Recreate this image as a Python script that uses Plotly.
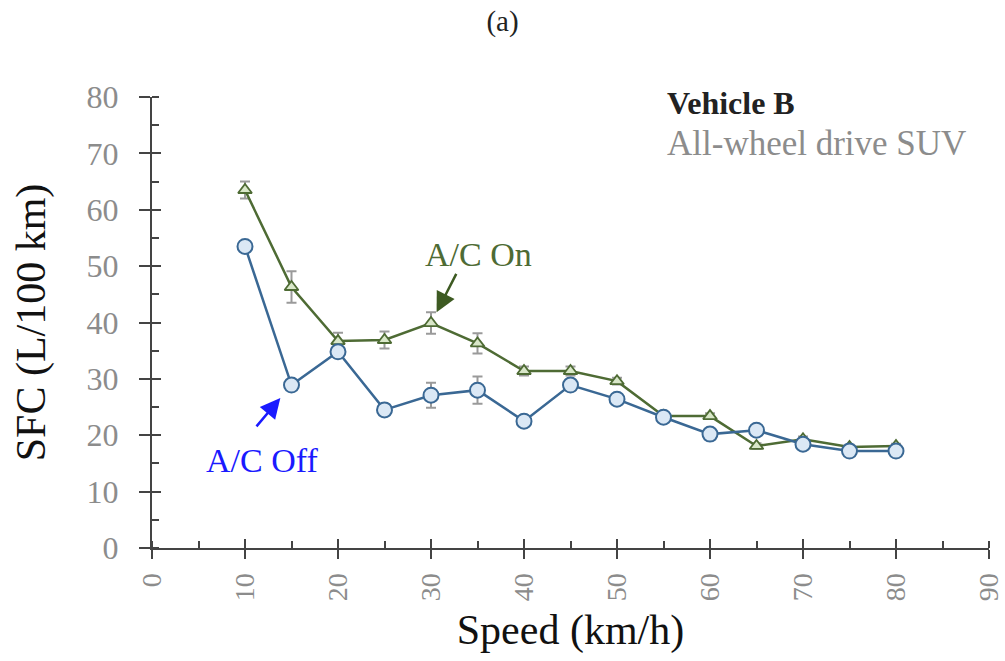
import plotly.graph_objects as go

speed = [10, 15, 20, 25, 30, 35, 40, 45, 50, 55, 60, 65, 70, 75, 80]
ac_off = [53.5, 28.9, 34.8, 24.5, 27.1, 28.0, 22.5, 28.9, 26.4, 23.2, 20.2, 20.9, 18.4, 17.2, 17.2]
ac_off_err = [0.6, 0.6, 1.0, 1.0, 2.2, 2.4, 1.0, 1.0, 0.5, 0.5, 0.4, 0.4, 0.4, 0.3, 0.3]
ac_on = [63.5, 46.3, 36.7, 36.9, 39.9, 36.3, 31.4, 31.4, 29.6, 23.4, 23.4, 18.1, 19.3, 17.9, 18.1]
ac_on_err = [1.5, 2.8, 1.5, 1.5, 1.9, 1.8, 0.8, 0.8, 0.6, 0.5, 0.5, 0.5, 0.5, 0.4, 0.4]

FONT = "Liberation Serif"
BLUE = "#3a6894"
GREEN = "#4e6b34"

fig = go.Figure()
fig.add_trace(go.Scatter(
    x=speed, y=ac_on, mode="lines+markers", name="A/C On",
    line=dict(color=GREEN, width=2.5),
    marker=dict(symbol="triangle-up", size=12, color="#d9e7c9", line=dict(color=GREEN, width=1.8)),
    error_y=dict(type="data", array=ac_on_err, color="#9a9a9a", thickness=2, width=5),
))
fig.add_trace(go.Scatter(
    x=speed, y=ac_off, mode="lines+markers", name="A/C Off",
    line=dict(color=BLUE, width=2.5),
    marker=dict(symbol="circle", size=15, color="#dbe8f5", line=dict(color=BLUE, width=2)),
    error_y=dict(type="data", array=ac_off_err, color="#9a9a9a", thickness=2, width=5),
))
# invisible trace for overlay axes (inward major ticks)
fig.add_trace(go.Scatter(x=[None], y=[None], xaxis="x2", yaxis="y2", showlegend=False, hoverinfo="skip"))

fig.update_layout(
    width=1005, height=661,
    margin=dict(l=152, r=16, t=97, b=113),
    paper_bgcolor="white", plot_bgcolor="white",
    showlegend=False,
    font=dict(family=FONT),
    title=dict(text="(a)", x=0.5, xref="container", xanchor="center", y=0.968, yanchor="middle",
               font=dict(family=FONT, size=29, color="#222")),
    xaxis=dict(range=[0, 90], dtick=10, tick0=0, tickangle=-90, automargin=False,
               tickfont=dict(family=FONT, size=28, color="#8c8c8c"), ticklabelstandoff=3,
               showgrid=False, zeroline=False, showline=True, linecolor="#444", linewidth=2,
               ticks="outside", ticklen=9, tickwidth=2, tickcolor="#444",
               minor=dict(dtick=5, ticks="inside", ticklen=7, tickwidth=2, tickcolor="#444"),
               title=dict(text="Speed (km/h)", font=dict(family=FONT, size=42, color="#111"), standoff=14)),
    yaxis=dict(range=[0, 80], dtick=10, tick0=0, automargin=False,
               tickfont=dict(family=FONT, size=32, color="#8c8c8c"), ticklabelstandoff=14,
               showgrid=False, zeroline=False, showline=True, linecolor="#444", linewidth=2,
               ticks="outside", ticklen=11, tickwidth=2, tickcolor="#444",
               minor=dict(dtick=5, ticks="inside", ticklen=7, tickwidth=2, tickcolor="#444"),
               title=dict(text="SFC (L/100 km)", font=dict(family=FONT, size=42, color="#111"), standoff=28)),
    xaxis2=dict(range=[0, 90], dtick=10, tick0=0, overlaying="x", anchor="y2", side="bottom",
                showticklabels=False, showgrid=False, zeroline=False, showline=False, automargin=False,
                ticks="inside", ticklen=9, tickwidth=2, tickcolor="#444"),
    yaxis2=dict(range=[0, 80], dtick=10, tick0=0, overlaying="y", anchor="x2", side="left",
                showticklabels=False, showgrid=False, zeroline=False, showline=False, automargin=False,
                ticks="inside", ticklen=9, tickwidth=2, tickcolor="#444"),
)

ann = []
ann.append(dict(x=55.2, y=78.9, xref="x", yref="y", text="<b>Vehicle B</b>", showarrow=False,
                xanchor="left", yanchor="middle", font=dict(family=FONT, size=32, color="#222")))
ann.append(dict(x=55.2, y=71.8, xref="x", yref="y", text="All-wheel drive SUV", showarrow=False,
                xanchor="left", yanchor="middle", font=dict(family=FONT, size=35, color="#8c8c8c")))
ann.append(dict(x=35.1, y=52.1, xref="x", yref="y", text="A/C On", showarrow=False,
                font=dict(family=FONT, size=34, color=GREEN)))
ann.append(dict(x=11.8, y=15.6, xref="x", yref="y", text="A/C Off", showarrow=False,
                font=dict(family=FONT, size=34, color="#1a1aff")))
ann.append(dict(x=30.6, y=41.8, xref="x", yref="y", ax=32.8, ay=48.9, axref="x", ayref="y",
                text="", showarrow=True, arrowhead=2, arrowsize=1.6, arrowwidth=2.5, arrowcolor="#3d5a22"))
ann.append(dict(x=13.8, y=26.6, xref="x", yref="y", ax=11.1, ay=21.3, axref="x", ayref="y",
                text="", showarrow=True, arrowhead=2, arrowsize=1.6, arrowwidth=2.5, arrowcolor="#1a1aff"))
fig.update_layout(annotations=ann)

fig.write_html("out.html")
